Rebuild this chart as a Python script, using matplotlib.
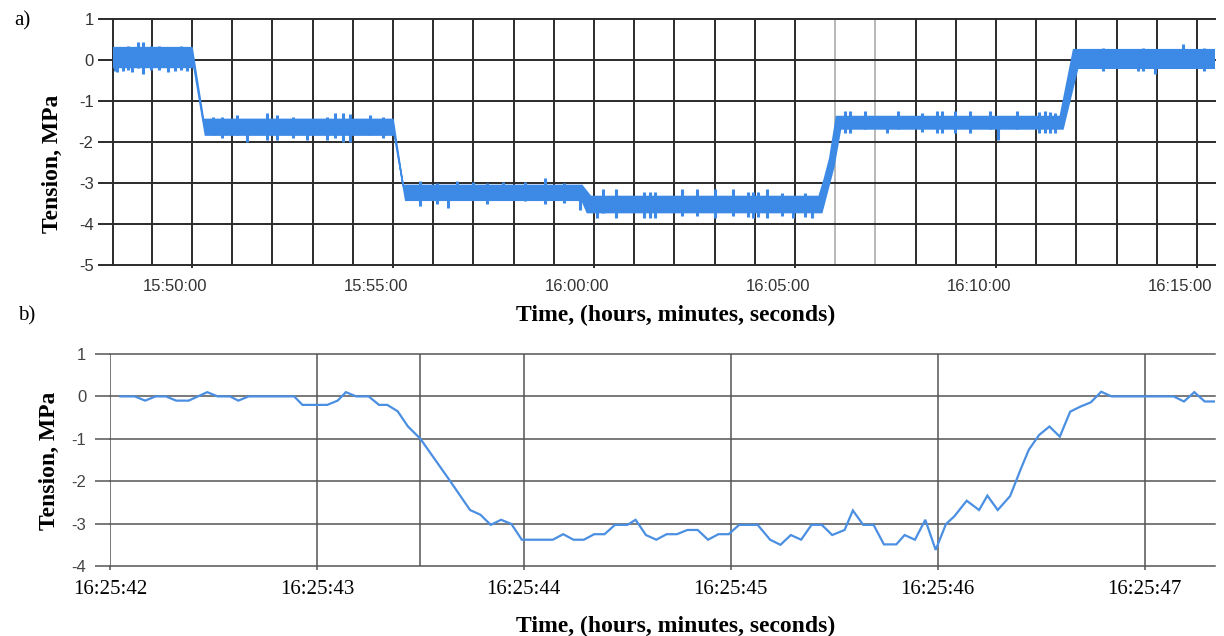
import matplotlib
matplotlib.use("Agg")
import matplotlib.pyplot as plt
import matplotlib.transforms as mtransforms
from matplotlib.ticker import FuncFormatter, FixedLocator

plt.rcParams['axes.unicode_minus'] = False

SERIF = ['Liberation Serif', 'DejaVu Serif']
SANS = ['Liberation Sans', 'DejaVu Sans']

# ---------------- Panel a) data (envelope of the noisy record) ----------------
a_upper_time = ["15:48:02", "15:50:00", "15:50:17", "15:55:00", "15:55:15", "15:59:42",
                "15:59:55", "16:05:36", "16:05:44", "16:05:52", "16:06:02", "16:11:36",
                "16:11:56", "16:15:27"]
a_upper_val = [0.30, 0.30, -1.45, -1.45, -3.06, -3.06,
               -3.33, -3.33, -2.90, -2.40, -1.38, -1.38,
               0.25, 0.25]
a_lower_time = ["15:48:02", "15:50:03", "15:50:20", "15:55:02", "15:55:19", "15:59:42",
                "15:59:50", "16:05:40", "16:05:50", "16:05:58", "16:06:08", "16:11:40",
                "16:12:02", "16:15:27"]
a_lower_val = [-0.18, -0.18, -1.83, -1.83, -3.42, -3.42,
               -3.72, -3.72, -3.10, -2.60, -1.68, -1.68,
               -0.20, -0.20]

# noise spikes: time, lowest value, highest value
a_spike_time = ["15:48:05", "15:48:08", "15:48:17", "15:48:24", "15:48:31", "15:48:40", "15:48:47", "15:48:58",
                "15:49:10", "15:49:24", "15:49:35", "15:49:44", "15:49:53",
                "15:50:31", "15:50:45", "15:51:07", "15:51:22", "15:51:52", "15:52:07", "15:52:30", "15:52:52",
                "15:53:22", "15:53:33", "15:53:45", "15:53:56", "15:54:26", "15:54:45",
                "15:55:40", "15:56:05", "15:56:22", "15:56:35", "15:56:59", "15:57:20", "15:57:44", "15:58:17",
                "15:58:47", "15:59:15", "15:59:39",
                "16:00:04", "16:00:13", "16:00:33", "16:01:15", "16:01:23", "16:01:31", "16:02:11", "16:02:34",
                "16:03:01", "16:03:28", "16:03:50", "16:03:57", "16:04:05", "16:04:18", "16:04:40", "16:04:57",
                "16:05:15", "16:05:25",
                "16:06:15", "16:06:22", "16:06:45", "16:07:17", "16:07:34", "16:08:10", "16:08:32", "16:08:40",
                "16:08:59", "16:09:21", "16:09:51", "16:10:03", "16:10:31", "16:11:05", "16:11:13", "16:11:20",
                "16:11:28",
                "16:12:40", "16:13:32", "16:13:40", "16:13:57", "16:14:39", "16:15:10"]
a_spike_low = [-0.28, -0.30, -0.28, -0.25, -0.30, -0.20, -0.35, -0.25,
               -0.25, -0.30, -0.28, -0.25, -0.28,
               -1.83, -1.90, -1.83, -2.00, -1.95, -1.95, -1.90, -1.95,
               -1.95, -1.90, -2.00, -2.00, -1.83, -1.90,
               -3.55, -3.50, -3.60, -3.42, -3.42, -3.50, -3.42, -3.45,
               -3.50, -3.48, -3.65,
               -3.86, -3.72, -3.86, -3.86, -3.86, -3.86, -3.80, -3.80,
               -3.86, -3.80, -3.82, -3.86, -3.84, -3.86, -3.80, -3.86,
               -3.84, -3.86,
               -1.79, -1.79, -1.68, -1.79, -1.68, -1.75, -1.79, -1.79,
               -1.79, -1.79, -1.68, -1.95, -1.68, -1.79, -1.79, -1.79,
               -1.79,
               -0.26, -0.28, -0.26, -0.33, -0.20, -0.26]
a_spike_high = [0.30, 0.30, 0.30, 0.33, 0.30, 0.45, 0.45, 0.34,
                0.33, 0.30, 0.30, 0.33, 0.30,
                -1.38, -1.40, -1.35, -1.47, -1.30, -1.35, -1.40, -1.47,
                -1.40, -1.30, -1.30, -1.32, -1.35, -1.40,
                -2.95, -3.00, -3.06, -2.95, -2.98, -3.00, -2.98, -2.98,
                -2.88, -3.00, -3.06,
                -3.33, -3.15, -3.15, -3.22, -3.22, -3.22, -3.15, -3.15,
                -3.15, -3.15, -3.22, -3.22, -3.22, -3.15, -3.25, -3.33,
                -3.25, -3.33,
                -1.24, -1.24, -1.24, -1.38, -1.24, -1.30, -1.24, -1.24,
                -1.24, -1.24, -1.24, -1.38, -1.24, -1.28, -1.24, -1.28,
                -1.30,
                0.30, 0.25, 0.30, 0.25, 0.38, 0.30]

a_xlim = ["15:48:02", "16:15:27"]
a_ylim = [-5, 1]
a_light_minutes = ["16:06:00", "16:07:00"]

# ---------------- Panel b) data ----------------
b_start = "16:25:42"
b_time_s = [0.05, 0.12, 0.17, 0.22, 0.27, 0.32, 0.38, 0.47, 0.52, 0.58, 0.62, 0.67, 0.89, 0.93,
            1.05, 1.10, 1.14, 1.19, 1.25, 1.30, 1.34, 1.39, 1.44, 1.50, 1.64, 1.74, 1.79, 1.84,
            1.89, 1.94, 1.99, 2.14, 2.19, 2.24, 2.29, 2.34, 2.39, 2.44, 2.50, 2.54, 2.59, 2.64,
            2.69, 2.74, 2.79, 2.84, 2.89, 2.94, 2.99, 3.04, 3.13, 3.19, 3.24, 3.29, 3.34, 3.39,
            3.44, 3.49, 3.55, 3.59, 3.64, 3.69, 3.74, 3.80, 3.84, 3.89, 3.94, 3.99, 4.04, 4.08,
            4.14, 4.20, 4.24, 4.29, 4.35, 4.40, 4.44, 4.49, 4.54, 4.59, 4.64, 4.69, 4.74, 4.79,
            4.84, 4.88, 5.14, 5.19, 5.24, 5.29, 5.34]
b_value = [0.0, 0.0, -0.1, 0.0, 0.0, -0.1, -0.1, 0.1, 0.0, 0.0, -0.1, 0.0, 0.0, -0.2,
           -0.2, -0.1, 0.1, 0.0, 0.0, -0.2, -0.2, -0.35, -0.71, -1.0, -1.97, -2.68, -2.79, -3.03,
           -2.91, -3.01, -3.38, -3.38, -3.25, -3.38, -3.38, -3.25, -3.25, -3.03, -3.03, -2.91, -3.27, -3.38,
           -3.25, -3.25, -3.15, -3.15, -3.38, -3.25, -3.25, -3.03, -3.03, -3.38, -3.50, -3.27, -3.38, -3.03,
           -3.03, -3.27, -3.15, -2.69, -3.03, -3.03, -3.49, -3.49, -3.27, -3.38, -2.91, -3.62, -3.01, -2.83,
           -2.46, -2.68, -2.34, -2.68, -2.35, -1.73, -1.26, -0.91, -0.71, -0.95, -0.36, -0.24, -0.14, 0.11,
           0.0, 0.0, 0.0, -0.12, 0.1, -0.12, -0.12]
b_xlim_s = [0.0, 5.34]
b_ylim = [-4, 1]
b_extra_grid_s = [1.5]


def hms(s):
    h, m, sec = s.split(':')
    return int(h) * 3600 + int(m) * 60 + float(sec)


def fmt_hms(v, pos=None):
    v = int(round(v))
    return f"{v // 3600:02d}:{(v % 3600) // 60:02d}:{v % 60:02d}"


W, H = 1224, 636
fig = plt.figure(figsize=(W / 100, H / 100), dpi=100)

# ---------------- Panel a ----------------
axA = fig.add_axes([113 / W, 1 - 265 / H, (1215 - 113) / W, (265 - 19) / H])
x0, x1 = hms(a_xlim[0]), hms(a_xlim[1])
axA.set_xlim(x0, x1)
axA.set_ylim(*a_ylim)

grid_dark = '#2b2b2b'
light = [hms(t) for t in a_light_minutes]
minute_ticks = [m * 60 for m in range(int(x0 // 60) + 1, int(x1 // 60) + 1)]
for mt in minute_ticks:
    col = '#b8b8b8' if mt in light else grid_dark
    axA.axvline(mt, color=col, lw=1.4, zorder=1)
for yv in range(a_ylim[0], a_ylim[1] + 1):
    axA.axhline(yv, color=grid_dark, lw=1.4, zorder=1, clip_on=False)

up_t = [hms(t) for t in a_upper_time]
lo_t = [hms(t) for t in a_lower_time]
poly_x = up_t + lo_t[::-1]
poly_y = a_upper_val + a_lower_val[::-1]
blue_a = '#3d8ae6'
axA.fill(poly_x, poly_y, color=blue_a, lw=1.2, ec=blue_a, zorder=3)
axA.vlines([hms(t) for t in a_spike_time], a_spike_low, a_spike_high,
           color=blue_a, lw=2.2, zorder=3)

for s in ['top', 'right', 'bottom']:
    axA.spines[s].set_visible(False)
axA.spines['left'].set_color(grid_dark)
axA.spines['left'].set_linewidth(1.4)

label_ticks = [t for t in minute_ticks if (t // 60) % 5 == 0]
axA.xaxis.set_major_locator(FixedLocator(label_ticks))
axA.xaxis.set_major_formatter(FuncFormatter(fmt_hms))
axA.set_yticks(range(a_ylim[0], a_ylim[1] + 1))
axA.tick_params(axis='x', length=2, width=1.4, color=grid_dark, pad=8,
                labelsize=12, labelcolor='#333333')
axA.tick_params(axis='y', length=11, width=1.4, color=grid_dark, pad=3,
                labelsize=12, labelcolor='#333333')
shift = mtransforms.ScaledTranslation(-0.17, 0, fig.dpi_scale_trans)
for lab in axA.get_xticklabels():
    lab.set_family(SANS)
    lab.set_transform(lab.get_transform() + shift)
for lab in axA.get_yticklabels():
    lab.set_family(SANS)

# ---------------- Panel b ----------------
axB = fig.add_axes([110 / W, 1 - 566 / H, (1215 - 110) / W, (566 - 354) / H])
b0 = hms(b_start)
axB.set_xlim(b0 + b_xlim_s[0], b0 + b_xlim_s[1])
axB.set_ylim(*b_ylim)
grid_b = '#555555'
sec_ticks = [b0 + k for k in range(0, 6)]
for st in sec_ticks + [b0 + e for e in b_extra_grid_s]:
    axB.axvline(st, color=grid_b, lw=1.1, zorder=1)
for yv in range(b_ylim[0], b_ylim[1] + 1):
    axB.axhline(yv, color=grid_b, lw=1.1, zorder=1, clip_on=False)

axB.plot([b0 + t for t in b_time_s], b_value, color='#4a8fe2', lw=1.6, zorder=3,
         solid_joinstyle='miter')

for s in ['top', 'right', 'bottom', 'left']:
    axB.spines[s].set_visible(False)
axB.xaxis.set_major_locator(FixedLocator(sec_ticks))
axB.xaxis.set_major_formatter(FuncFormatter(fmt_hms))
axB.set_yticks(range(b_ylim[0], b_ylim[1] + 1))
axB.tick_params(axis='x', length=3, width=1.1, color=grid_b, pad=7,
                labelsize=15, labelcolor='black')
axB.tick_params(axis='y', length=11, width=1.1, color=grid_b, pad=6,
                labelsize=12, labelcolor='#444444')
for lab in axB.get_xticklabels():
    lab.set_family(SERIF)
for lab in axB.get_yticklabels():
    lab.set_family(SANS)

# ---------------- Labels ----------------
xl = "Time, (hours, minutes, seconds)"
yl = "Tension, MPa"
fig.text(676 / W, 1 - 315 / H, xl, ha='center', va='center', family=SERIF,
         fontweight='bold', fontsize=17)
fig.text(676 / W, 1 - 626 / H, xl, ha='center', va='center', family=SERIF,
         fontweight='bold', fontsize=17)
fig.text(52 / W, 1 - 164 / H, yl, ha='center', va='center', rotation=90,
         family=SERIF, fontweight='bold', fontsize=17)
fig.text(49 / W, 1 - 461 / H, yl, ha='center', va='center', rotation=90,
         family=SERIF, fontweight='bold', fontsize=17)
fig.text(22 / W, 1 - 21 / H, "a)", ha='center', va='center', family=SERIF, fontsize=15)
fig.text(27 / W, 1 - 316 / H, "b)", ha='center', va='center', family=SERIF, fontsize=15)

fig.savefig("out.png", dpi=100)
